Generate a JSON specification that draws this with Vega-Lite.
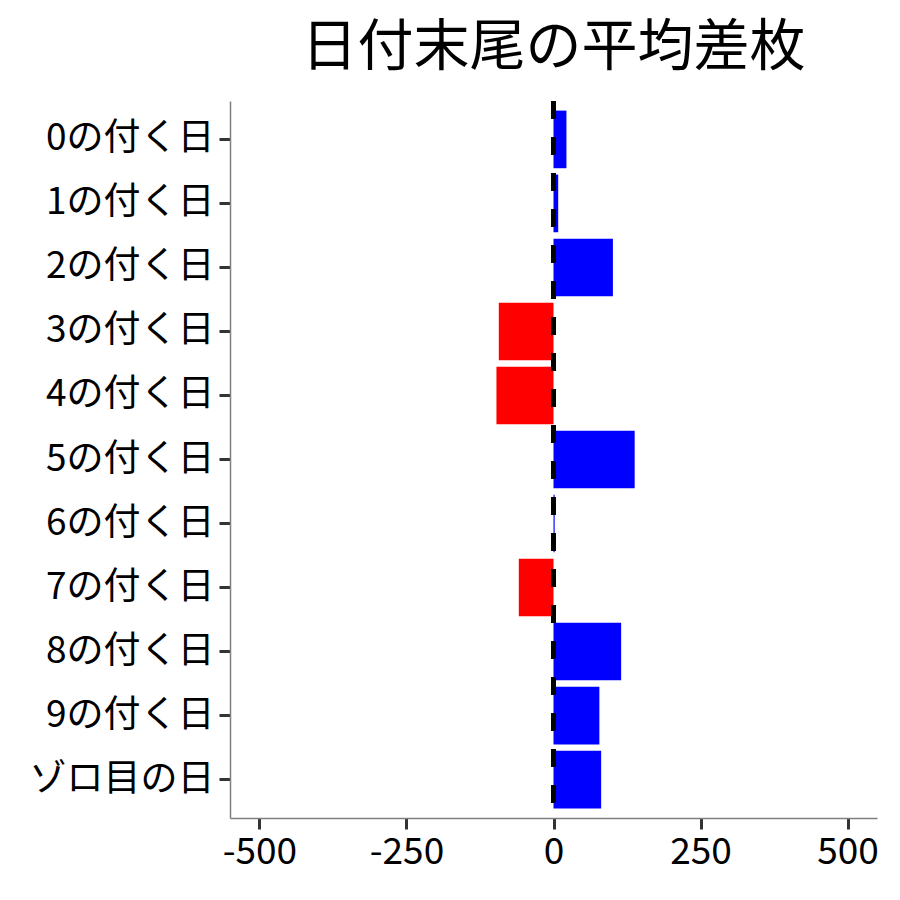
{
  "$schema": "https://vega.github.io/schema/vega-lite/v6.json",
  "autosize": {"type": "none"},
  "width": 647,
  "height": 717,
  "padding": {"left": 230, "top": 101, "right": 23, "bottom": 82},
  "background": "white",
  "title": {
    "text": "日付末尾の平均差枚",
    "anchor": "middle",
    "font": "Noto Sans CJK JP",
    "fontSize": 56,
    "fontWeight": "normal",
    "color": "black",
    "offset": 22
  },
  "config": {
    "view": {"stroke": null},
    "font": "Noto Sans CJK JP"
  },
  "data": {
    "values": [
      {"day": "0の付く日", "diff": 22},
      {"day": "1の付く日", "diff": 8},
      {"day": "2の付く日", "diff": 101},
      {"day": "3の付く日", "diff": -93},
      {"day": "4の付く日", "diff": -97},
      {"day": "5の付く日", "diff": 138},
      {"day": "6の付く日", "diff": 2},
      {"day": "7の付く日", "diff": -59},
      {"day": "8の付く日", "diff": 115},
      {"day": "9の付く日", "diff": 78},
      {"day": "ゾロ目の日", "diff": 81}
    ]
  },
  "layer": [
    {
      "mark": {"type": "bar"},
      "encoding": {
        "y": {
          "field": "day",
          "type": "nominal",
          "sort": null,
          "scale": {"paddingInner": 0.1, "paddingOuter": 0.15},
          "axis": {
            "title": null,
            "grid": false,
            "bandPosition": 0.5,
            "domainColor": "#7f7f7f",
            "domainWidth": 1.5,
            "tickColor": "#333333",
            "tickWidth": 3,
            "tickSize": 11,
            "labelPadding": 5,
            "labelLimit": 400,
            "labelFont": "Noto Sans CJK JP",
            "labelFontSize": 37,
            "labelColor": "black"
          }
        },
        "x": {
          "field": "diff",
          "type": "quantitative",
          "scale": {"domain": [-550, 550], "nice": false, "zero": false},
          "axis": {
            "title": null,
            "grid": false,
            "values": [-500, -250, 0, 250, 500],
            "labelExpr": "datum.value < 0 ? '-' + abs(datum.value) : '' + datum.value",
            "domainColor": "#7f7f7f",
            "domainWidth": 1.5,
            "tickColor": "#333333",
            "tickWidth": 3,
            "tickSize": 11,
            "labelPadding": 5,
            "labelFont": "Noto Sans CJK JP",
            "labelFontSize": 37,
            "labelColor": "black"
          }
        },
        "color": {
          "condition": {"test": "datum.diff < 0", "value": "#ff0000"},
          "value": "#0000ff"
        }
      }
    },
    {
      "mark": {"type": "rule", "strokeDash": [18, 18], "strokeWidth": 4, "color": "black"},
      "encoding": {
        "x": {"datum": 0, "type": "quantitative"}
      }
    }
  ]
}
